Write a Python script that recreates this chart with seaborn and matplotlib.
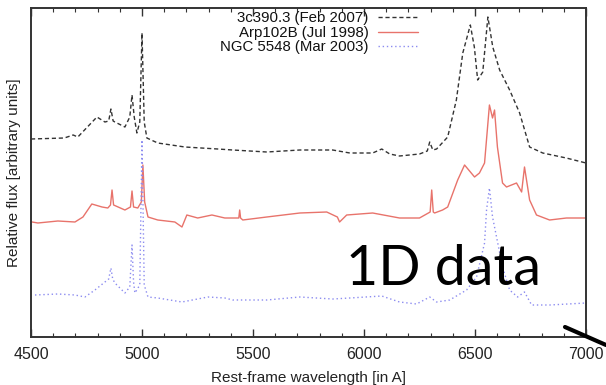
import matplotlib
matplotlib.use("Agg")
import matplotlib.pyplot as plt
from matplotlib.lines import Line2D
from matplotlib.ticker import MultipleLocator, NullLocator
import seaborn as sns
import pandas as pd

# --- data (rest-frame wavelength in Angstrom, relative flux in arbitrary units) ---
wl_3c390 = [4500, 4650, 4690, 4711, 4797, 4833, 4850, 4860, 4870, 4878, 4923, 4945, 4955,
            4965, 4977, 4990, 5000, 5010, 5022, 5071, 5193, 5341, 5409, 5562, 5711,
            5859, 5936, 6039, 6080, 6116, 6160, 6250, 6285, 6296, 6310, 6327, 6377,
            6416, 6445, 6479, 6497, 6512, 6535, 6558, 6580, 6611, 6656, 6701, 6746,
            6805, 6911, 7000]
fx_3c390 = [198, 199, 202, 200, 220, 215, 216, 228, 216, 215, 210, 220, 242,
            220, 204, 215, 304, 215, 199, 194, 190, 188, 187, 185, 187,
            187, 184, 184, 188, 183, 181, 183, 186, 195, 187, 188, 200,
            237, 284, 312, 290, 257, 265, 320, 290, 267, 247, 224, 190,
            184, 179, 174]

wl_arp102b = [4505, 4531, 4621, 4698, 4734, 4774, 4820, 4846, 4858, 4865, 4872, 4923, 4948,
              4955, 4962, 4981, 4997, 5004, 5012, 5027, 5071, 5148, 5180, 5202, 5251,
              5315, 5373, 5409, 5436, 5440, 5444, 5454, 5562, 5711, 5832, 5880, 5890,
              5922, 6039, 6160, 6250, 6298, 6305, 6312, 6318, 6354, 6377, 6422, 6453,
              6498, 6520, 6543, 6565, 6579, 6588, 6601, 6624, 6642, 6687, 6710, 6723,
              6746, 6777, 6836, 6912, 7000]
fx_arp102b = [115, 114, 116, 115, 120, 133, 130, 129, 132, 147, 132, 127, 130,
              146, 130, 129, 135, 172, 135, 120, 117, 115, 110, 122, 119,
              122, 119, 119, 119, 127, 119, 117, 120, 124, 125, 120, 115,
              122, 124, 119, 119, 125, 147, 125, 124, 127, 130, 157, 172,
              160, 164, 174, 232, 219, 227, 190, 154, 150, 154, 145, 170,
              137, 122, 117, 119, 119]

wl_ngc5548 = [4518, 4621, 4698, 4743, 4788, 4833, 4850, 4860, 4868, 4878, 4923, 4945, 4955,
              4962, 4968, 4990, 5000, 5010, 5027, 5071, 5180, 5297, 5373, 5409, 5562,
              5711, 5859, 5936, 6080, 6160, 6237, 6296, 6327, 6386, 6462, 6507, 6543,
              6552, 6565, 6579, 6597, 6624, 6656, 6692, 6723, 6755, 6836, 7000]
fx_ngc5548 = [42, 43, 42, 40, 47, 55, 58, 69, 58, 54, 44, 50, 92,
              55, 44, 52, 197, 52, 40, 39, 35, 40, 39, 37, 37,
              40, 38, 39, 41, 35, 33, 40, 35, 37, 47, 60, 94,
              127, 149, 120, 100, 70, 47, 40, 45, 32, 32, 34]

labels = ["3c390.3 (Feb 2007)", "Arp102B (Jul 1998)", "NGC 5548 (Mar 2003)"]
x_ticks = [4500, 5000, 5500, 6000, 6500, 7000]

# --- style ---
sns.set_style("ticks")
plt.rcParams["font.family"] = ["Liberation Sans", "DejaVu Sans"]

W, H = 606, 385
fig = plt.figure(figsize=(W / 100, H / 100), dpi=100)
L, R, T, B = 31, 586, 8, 337
ax = fig.add_axes([L / W, (H - B) / H, (R - L) / W, (B - T) / H])

sns.lineplot(x=wl_3c390, y=fx_3c390, ax=ax, color="#333333", lw=1.0,
             linestyle=(0, (3, 2)), label=labels[0], sort=False)
sns.lineplot(x=wl_arp102b, y=fx_arp102b, ax=ax, color="#e8736b", lw=1.0,
             linestyle="-", label=labels[1], sort=False)
sns.lineplot(x=wl_ngc5548, y=fx_ngc5548, ax=ax, color="#8c8cf0", lw=1.0,
             linestyle=(0, (1, 2)), label=labels[2], sort=False)

ax.set_xlim(4500, 7000)
ax.set_ylim(0, 329)
ax.set_xticks(x_ticks)
ax.set_xticklabels([str(t) for t in x_ticks])
ax.xaxis.set_minor_locator(MultipleLocator(100))
ax.yaxis.set_major_locator(NullLocator())
ax.yaxis.set_minor_locator(NullLocator())
ax.tick_params(axis="x", which="both", direction="in", top=True, bottom=True,
               color="#333333", labelsize=11.5, pad=7, labelcolor="#222222")
ax.tick_params(axis="x", which="major", length=6, width=1.0)
ax.tick_params(axis="x", which="minor", length=3, width=0.8)
for s in ax.spines.values():
    s.set_color("#333333")
    s.set_linewidth(1.4)

ax.set_xlabel("Rest-frame wavelength [in A]", fontsize=11, labelpad=7, color="#222222")
ax.set_ylabel("Relative flux [arbitrary units]", fontsize=11, labelpad=7, color="#222222")

leg = ax.legend(loc="upper right", frameon=False, markerfirst=False, fontsize=10.8,
                bbox_to_anchor=((418 - L) / (R - L), (B - 11) / (B - T)),
                borderaxespad=0, borderpad=0, handlelength=2.7,
                handletextpad=0.6, labelspacing=0.05)
for t in leg.get_texts():
    t.set_color("#111111")

# overlay annotation
fig.text(443 / W, 1 - 285 / H, "1D data", fontsize=40, family=["Lato", "DejaVu Sans"],
         ha="center", va="baseline", color="black")
fig.add_artist(Line2D([565 / W, 1.0], [1 - 327 / H, 1 - 345 / H],
                      transform=fig.transFigure, color="black", lw=3))

fig.savefig("out.png", dpi=100)
